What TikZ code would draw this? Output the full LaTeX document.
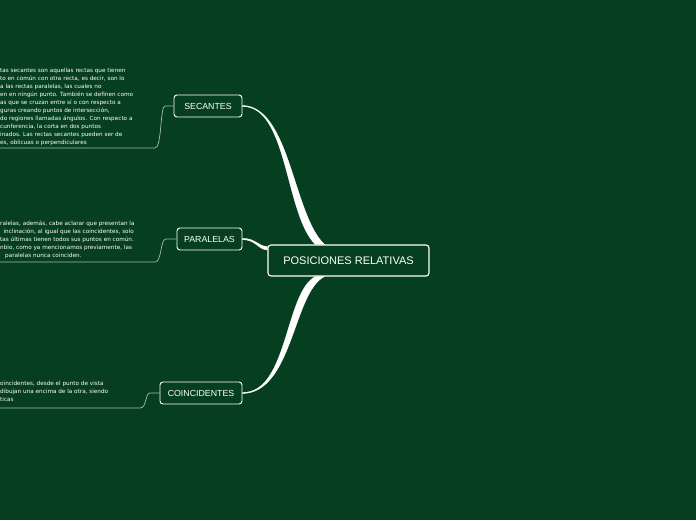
\documentclass[tikz,border=0pt]{standalone}
\usepackage{fontspec}
\setmainfont{DejaVu Sans}
\newfontfamily\titlefont{Liberation Sans}
\definecolor{bg}{RGB}{6,63,32}
\definecolor{noteline}{RGB}{165,190,170}
\begin{document}
\begin{tikzpicture}[x=1pt,y=-1pt,
  topic/.style={draw=white,line width=0.9pt,rounded corners=3pt,text=white,font=\titlefont\fontsize{8.8}{9}\selectfont,inner sep=0pt,minimum height=22pt},
  maintopic/.style={topic,line width=1.1pt,font=\titlefont\fontsize{11}{12}\selectfont,minimum height=31pt,minimum width=161pt},
  note/.style={text=white,font=\fontsize{5.7}{8}\selectfont,align=left,anchor=north west,inner sep=0pt},
  noteconn/.style={draw=noteline,line width=0.7pt},
  branch/.style={fill=white,draw=white,line width=0.4pt}]
\fill[bg] (0,0) rectangle (696,520);
\useasboundingbox (0,0) rectangle (696,520);

% branches (tapered), drawn under the nodes
\path (348.5,260.5) node[maintopic,fill=bg] (pos) {POSICIONES RELATIVAS};
\path (208,106) node[topic,minimum width=68pt] (sec) {SECANTES};
\path (209.5,239) node[topic,minimum width=65pt] (par) {PARALELAS};
\path (201,393) node[topic,minimum width=82pt] (coi) {COINCIDENTES};

\coordinate (pa) at ([xshift=48pt]pos.north west);
\coordinate (pb) at ([xshift=57pt]pos.north west);
\fill[branch] ([yshift=-0.5pt]sec.east) .. controls (288,105.5) and (285,215) .. (pa)
  -- (pb) .. controls (293,215) and (290,106.5) .. ([yshift=0.5pt]sec.east) -- cycle;
\coordinate (qa) at ([xshift=48pt]pos.south west);
\coordinate (qb) at ([xshift=57pt]pos.south west);
\fill[branch] ([yshift=-0.5pt]coi.east) .. controls (293,392.5) and (293,292) .. (qb)
  -- (qa) .. controls (285,292) and (288,393.5) .. ([yshift=0.5pt]coi.east) -- cycle;
\coordinate (ra) at ([yshift=14pt]pos.west);
\coordinate (rb) at ([yshift=10.5pt]pos.west);
\fill[branch] ([yshift=0.6pt]par.east) .. controls (256,238.4) and (258,246.5) .. (ra)
  -- (rb) .. controls (258,249.5) and (256,239.6) .. ([yshift=-0.6pt]par.east) -- cycle;

% note connectors
\coordinate (s1) at (0,148);
\coordinate (s2) at (0,262);
\coordinate (s3) at (0,408);
\draw[noteconn] (sec.west) -- (165,106) .. controls (160,106) and (162,148) .. (155,148) -- (s1);
\draw[noteconn] (par.west) -- (166,239) .. controls (160,239) and (162,262) .. (155,262) -- (s2);
\draw[noteconn] (coi.west) -- (150,393) .. controls (145,393) and (147,408) .. (140,408) -- (s3);

% notes
\node[note] (t1) at (0,67.5) {tas secantes son aquellas rectas que tienen\\
to en común con otra recta, es decir, son lo\\
a las rectas paralelas, las cuales no\\
en en ningún punto. También se definen como\\
as que se cruzan entre sí o con respecto a\\
guras creando puntos de intersección,\\
do regiones llamadas ángulos. Con respecto a\\
cunferencia, la corta en dos puntos\\
inados. Las rectas secantes pueden ser de\\
es, oblicuas o perpendiculares};
\node[note] (t2) at (0,220.5) {ralelas, además, cabe aclarar que presentan la\\
\hphantom{i} inclinación, al igual que las coincidentes, solo\\
tas últimas tienen todos sus puntos en común.\\
nbio, como ya mencionamos previamente, las\\
\hphantom{ii} paralelas nunca coinciden.};
\node[note] (t3) at (0,380.5) {oincidentes, desde el punto de vista\\
dibujan una encima de la otra, siendo\\
ticas};
\end{tikzpicture}
\end{document}
